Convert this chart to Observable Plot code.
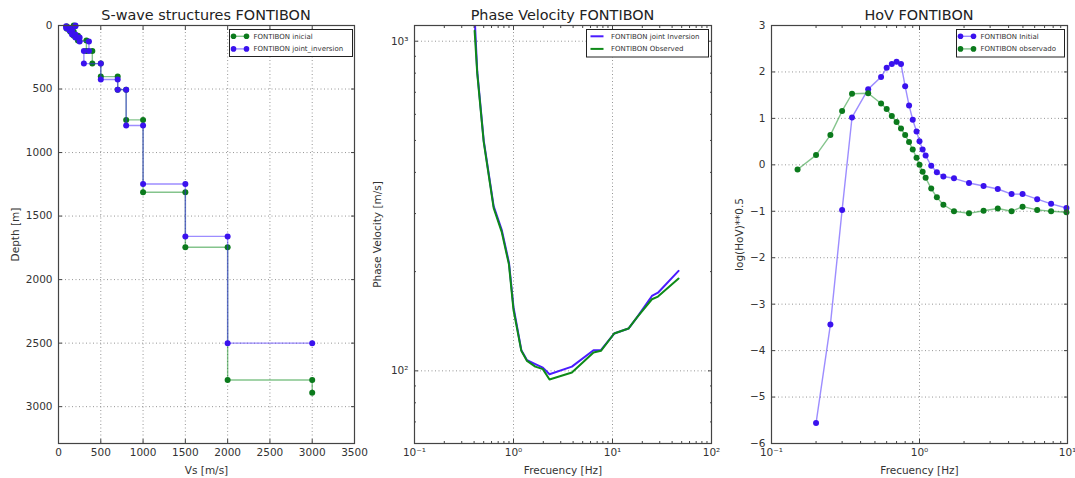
<!DOCTYPE html>
<html>
<head>
<meta charset="utf-8">
<script src="https://cdn.jsdelivr.net/npm/d3@7"></script>
<script src="https://cdn.jsdelivr.net/npm/@observablehq/plot@0.6"></script>
<style>
  html, body { margin: 0; padding: 0; background: #fff; }
  #wrap { position: relative; width: 1075px; height: 478px; overflow: hidden; font-family: "DejaVu Sans", sans-serif; }
  .panel { position: absolute; top: 0; }
  #overlay { position: absolute; left: 0; top: 0; pointer-events: none; }
</style>
</head>
<body>
<div id="wrap">
  <div class="panel" id="p1" style="left:0px"></div>
  <div class="panel" id="p2" style="left:360px"></div>
  <div class="panel" id="p3" style="left:720px"></div>
</div>
<script>
// ---------- Panel 1: S-wave structures ----------
const vsInicial    = [180,180,100,100,140,140,180,180,230,230,330,330,400,400,500,500,700,700,800,800,1000,1000,1500,1500,2000,2000,3000,3000];
const depthInicial = [0,8,8,25,25,50,50,80,80,118,118,200,200,300,300,402,402,505,505,743,743,1312,1312,1745,1745,2790,2790,2890];
const vsJoint      = [200,200,90,90,130,130,160,160,200,200,250,250,360,360,300,300,500,500,700,700,800,800,1000,1000,1500,1500,2000,2000,3000];
const depthJoint   = [0,5,5,20,20,40,40,70,70,95,95,125,125,200,200,300,300,425,425,505,505,787,787,1247,1247,1660,1660,2500,2500];
const p1XTicks = [0,500,1000,1500,2000,2500,3000,3500];
const p1YTicks = [0,500,1000,1500,2000,2500,3000];

// ---------- Panel 2: Phase velocity ----------
const pvFreqJoint = [0.39,0.43,0.5,0.63,0.76,0.9,1.0,1.2,1.37,1.66,1.98,2.31,3.89,6.43,7.64,10.4,14.5,17.6,25,28.8,46.5];
const pvVelJoint  = [1500,811,500,316,268,213,156,115.5,107.7,104.8,102.3,97.7,103,115.5,115.5,129.8,134.4,145,168.7,172.6,201];
const pvFreqObs   = [0.405,0.43,0.5,0.63,0.76,0.9,1.0,1.2,1.37,1.66,1.98,2.31,3.89,6.43,7.64,10.4,14.5,17.6,25,28.8,46.5];
const pvVelObs    = [1075,800,495,312,264,210,153,115,107.2,103,101.2,94.1,98.8,113.6,115,129.8,134.4,145,164.9,168,190.5];
const p2XTicks = [0.1,1,10,100];
const p2XLabels = ["10\u207B\u00B9","10\u2070","10\u00B9","10\u00B2"];
const p2YTicks = [100,1000];
const p2YLabels = ["10\u00B2","10\u00B3"];

// ---------- Panel 3: HoV ----------
const hovFreqInit = [0.2,0.25,0.3,0.35,0.45,0.55,0.6,0.65,0.7,0.75,0.8,0.85,0.9,0.955,1.0,1.05,1.1,1.2,1.31,1.45,1.71,2.16,2.71,3.38,4.19,4.97,6.24,7.75,9.84];
const hovValInit  = [-5.56,-3.44,-0.97,1.02,1.63,1.89,2.09,2.17,2.22,2.17,1.69,1.28,0.97,0.72,0.51,0.33,0.20,-0.02,-0.16,-0.25,-0.29,-0.39,-0.455,-0.52,-0.63,-0.63,-0.74,-0.84,-0.93];
const hovFreqObs  = [0.15,0.2,0.25,0.3,0.35,0.45,0.55,0.6,0.65,0.7,0.75,0.8,0.85,0.9,0.955,1.0,1.05,1.1,1.2,1.31,1.45,1.71,2.16,2.71,3.38,4.19,4.97,6.24,7.75,9.84];
const hovValObs   = [-0.10,0.21,0.64,1.16,1.53,1.54,1.32,1.20,1.05,0.92,0.78,0.64,0.49,0.33,0.155,0.0,-0.15,-0.28,-0.51,-0.70,-0.86,-1.0,-1.045,-0.99,-0.94,-1.0,-0.90,-0.97,-1.0,-1.02];
const p3XTicks = [0.1,1,10];
const p3XLabels = ["10\u207B\u00B9","10\u2070","10\u00B9"];
const p3YTicks = [-6,-5,-4,-3,-2,-1,0,1,2,3];

// ---------- styles ----------
const BLUE_M = "#3a12ee", GREEN_M = "#0b7a1c";
const BLUE_L = "#3b1bff", GREEN_L = "#0a8a1a";
const BLUE_PV = "#4a1cff", GREEN_PV = "#0e8a18";

const zip = (a, b, ka, kb) => a.map((v, i) => ({[ka]: v, [kb]: b[i]}));
const minorLog = (lo, hi) => { const out = []; for (let e = lo; e < hi; e++) for (let k = 2; k <= 9; k++) out.push(k * Math.pow(10, e)); return out; };

function frameMarks({xTicks, yTicks, xFormat, yFormat, xMinor, yMinor, xLabel, yLabel, yLabelOffset}) {
  const grid = {stroke: "#8a8a8a", strokeOpacity: 1, strokeDasharray: "1,2.5", strokeWidth: 0.9};
  const m = [
    Plot.gridX(xTicks, grid),
    Plot.gridY(yTicks, grid),
  ];
  const ax = [
    Plot.frame({stroke: "#444", strokeWidth: 1.2}),
    Plot.axisX(xTicks, {anchor: "bottom", tickSize: -4, tickPadding: 9, tickFormat: xFormat, label: xLabel, labelAnchor: "center", labelArrow: "none", labelOffset: 30, stroke: "#444"}),
    Plot.axisX(xTicks, {anchor: "top", tickSize: -4, tickFormat: () => "", label: null, stroke: "#444"}),
    Plot.axisY(yTicks, {anchor: "left", tickSize: -4, tickPadding: 10, tickFormat: yFormat, label: yLabel, labelAnchor: "center", labelArrow: "none", labelOffset: yLabelOffset, stroke: "#444"}),
    Plot.axisY(yTicks, {anchor: "right", tickSize: -4, tickFormat: () => "", label: null, stroke: "#444"}),
  ];
  if (xMinor) ax.push(
    Plot.axisX(xMinor, {anchor: "bottom", tickSize: -2, tickFormat: () => "", label: null, stroke: "#444"}),
    Plot.axisX(xMinor, {anchor: "top", tickSize: -2, tickFormat: () => "", label: null, stroke: "#444"}));
  if (yMinor) ax.push(
    Plot.axisY(yMinor, {anchor: "left", tickSize: -2, tickFormat: () => "", label: null, stroke: "#444"}),
    Plot.axisY(yMinor, {anchor: "right", tickSize: -2, tickFormat: () => "", label: null, stroke: "#444"}));
  return {grid: m, axes: ax};
}

const baseStyle = {fontFamily: "DejaVu Sans", fontSize: "10.5px", color: "#333", background: "transparent", overflow: "visible"};

// Panel 1
{
  const ini = zip(vsInicial, depthInicial, "vs", "depth");
  const joi = zip(vsJoint, depthJoint, "vs", "depth");
  const f = frameMarks({xTicks: p1XTicks, yTicks: p1YTicks, xFormat: d => String(d), yFormat: d => String(d),
    xLabel: "Vs [m/s]", yLabel: "Depth [m]", yLabelOffset: 47});
  const chart = Plot.plot({
    width: 360, height: 478, marginLeft: 58, marginRight: 6, marginTop: 25, marginBottom: 35,
    style: baseStyle,
    x: {domain: [0, 3500]},
    y: {domain: [0, 3290], reverse: true},
    marks: [
      ...f.grid,
      Plot.line(ini, {x: "vs", y: "depth", stroke: GREEN_L, strokeOpacity: 0.5, strokeWidth: 1.4}),
      Plot.dot(ini, {x: "vs", y: "depth", fill: GREEN_M, r: 3}),
      Plot.line(joi, {x: "vs", y: "depth", stroke: BLUE_L, strokeOpacity: 0.5, strokeWidth: 1.4}),
      Plot.dot(joi, {x: "vs", y: "depth", fill: BLUE_M, r: 3}),
      ...f.axes
    ]
  });
  document.getElementById("p1").appendChild(chart);
}

// Panel 2
{
  const joi = zip(pvFreqJoint, pvVelJoint, "f", "v");
  const obs = zip(pvFreqObs, pvVelObs, "f", "v");
  const f = frameMarks({xTicks: p2XTicks, yTicks: p2YTicks,
    xFormat: d => p2XLabels[p2XTicks.indexOf(d)], yFormat: d => p2YLabels[p2YTicks.indexOf(d)],
    xMinor: minorLog(-1, 2), yMinor: [70,80,90,200,300,400,500,600,700,800,900],
    xLabel: "Frecuency [Hz]", yLabel: "Phase Velocity [m/s]", yLabelOffset: 41});
  const chart = Plot.plot({
    width: 360, height: 478, marginLeft: 54, marginRight: 9, marginTop: 25, marginBottom: 35,
    style: baseStyle,
    x: {type: "log", domain: [0.1, 100]},
    y: {type: "log", domain: [60.2, 1116]},
    marks: [
      ...f.grid,
      Plot.line(joi, {x: "f", y: "v", stroke: BLUE_PV, strokeWidth: 2, clip: true}),
      Plot.line(obs, {x: "f", y: "v", stroke: GREEN_PV, strokeWidth: 2, clip: true}),
      ...f.axes
    ]
  });
  document.getElementById("p2").appendChild(chart);
}

// Panel 3
{
  const ini = zip(hovFreqInit, hovValInit, "f", "h");
  const obs = zip(hovFreqObs, hovValObs, "f", "h");
  const f = frameMarks({xTicks: p3XTicks, yTicks: p3YTicks,
    xFormat: d => p3XLabels[p3XTicks.indexOf(d)], yFormat: d => d < 0 ? "\u2212" + Math.abs(d) : String(d),
    xMinor: minorLog(-1, 1), yMinor: null,
    xLabel: "Frecuency [Hz]", yLabel: "log(HoV)**0.5", yLabelOffset: 36});
  const chart = Plot.plot({
    width: 355, height: 478, marginLeft: 51, marginRight: 8, marginTop: 25, marginBottom: 35,
    style: baseStyle,
    x: {type: "log", domain: [0.1, 10]},
    y: {domain: [-6, 3]},
    marks: [
      ...f.grid,
      Plot.line(ini, {x: "f", y: "h", stroke: BLUE_L, strokeOpacity: 0.5, strokeWidth: 1.4}),
      Plot.dot(ini, {x: "f", y: "h", fill: BLUE_M, r: 3}),
      Plot.line(obs, {x: "f", y: "h", stroke: GREEN_L, strokeOpacity: 0.5, strokeWidth: 1.4}),
      Plot.dot(obs, {x: "f", y: "h", fill: GREEN_M, r: 3}),
      ...f.axes
    ]
  });
  document.getElementById("p3").appendChild(chart);
}

// ---------- Titles and legends overlay ----------
const titles = [
  {text: "S-wave structures FONTIBON", cx: 206},
  {text: "Phase Velocity FONTIBON", cx: 562.5},
  {text: "HoV FONTIBON", cx: 919}
];
const legends = [
  {x: 229.5, y: 29.5, w: 123, h: 27, sym: "marker", items: [
    {label: "FONTIBON inicial", line: GREEN_L, mark: GREEN_M},
    {label: "FONTIBON joint_inversion", line: BLUE_L, mark: BLUE_M}]},
  {x: 586.5, y: 29.5, w: 122, h: 27.5, sym: "line", items: [
    {label: "FONTIBON joint Inversion", line: BLUE_PV},
    {label: "FONTIBON Observed", line: GREEN_PV}]},
  {x: 956.5, y: 29.5, w: 108, h: 27.5, sym: "marker", items: [
    {label: "FONTIBON Initial", line: BLUE_L, mark: BLUE_M},
    {label: "FONTIBON observado", line: GREEN_L, mark: GREEN_M}]}
];
const svg = d3.select("#wrap").append("svg").attr("id", "overlay").attr("width", 1075).attr("height", 478)
  .style("font-family", "DejaVu Sans");
for (const t of titles) {
  svg.append("text").attr("x", t.cx).attr("y", 20).attr("text-anchor", "middle")
    .attr("font-size", 14.4).attr("fill", "#222").text(t.text);
}
for (const L of legends) {
  const g = svg.append("g");
  g.append("rect").attr("x", L.x).attr("y", L.y).attr("width", L.w).attr("height", L.h)
    .attr("fill", "#fff").attr("stroke", "#222").attr("stroke-width", 1);
  L.items.forEach((it, i) => {
    const yy = L.y + 6.8 + i * 12.6;
    const x0 = L.x + 4, x1 = L.x + 17;
    g.append("line").attr("x1", x0).attr("x2", x1).attr("y1", yy).attr("y2", yy)
      .attr("stroke", it.line).attr("stroke-width", L.sym === "line" ? 2 : 1.4)
      .attr("stroke-opacity", L.sym === "line" ? 1 : 0.5);
    if (L.sym === "marker") {
      g.append("circle").attr("cx", x0).attr("cy", yy).attr("r", 2.8).attr("fill", it.mark);
      g.append("circle").attr("cx", x1).attr("cy", yy).attr("r", 2.8).attr("fill", it.mark);
    }
    g.append("text").attr("x", L.x + (L.sym === "line" ? 24.5 : 24)).attr("y", yy + 2.5)
      .attr("font-size", 7).attr("fill", "#333").text(it.label);
  });
}
</script>
</body>
</html>
